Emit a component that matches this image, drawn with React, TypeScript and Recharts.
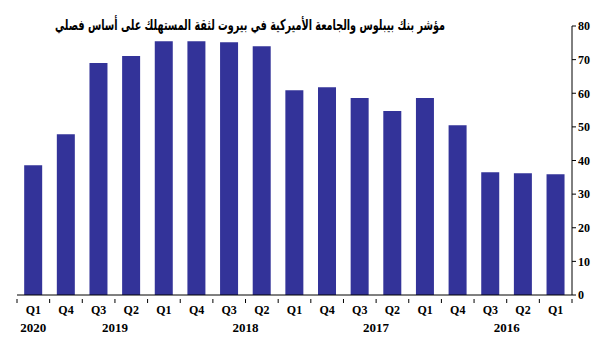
import { BarChart, Bar, XAxis, YAxis } from 'recharts'

// chronological order, the axis is drawn right-to-left
const quarters = ['Q1', 'Q2', 'Q3', 'Q4', 'Q1', 'Q2', 'Q3', 'Q4', 'Q1', 'Q2', 'Q3', 'Q4', 'Q1', 'Q2', 'Q3', 'Q4', 'Q1']
const years = ['2016', '2016', '2016', '2016', '2017', '2017', '2017', '2017', '2018', '2018', '2018', '2018', '2019', '2019', '2019', '2019', '2020']
const indexValues = [35.9, 36.2, 36.5, 50.5, 58.6, 54.7, 58.6, 61.8, 60.9, 74.0, 75.2, 75.5, 75.5, 71.1, 69.0, 47.8, 38.6]
const yTicks = [0, 10, 20, 30, 40, 50, 60, 70, 80]

const title = 'مؤشر بنك بيبلوس والجامعة الأميركية في بيروت لثقة المستهلك على أساس فصلي'

const data = quarters.map((q, i) => ({ label: q, year: years[i], value: indexValues[i] }))

const BAND = 555 / 17
const FONT = '"Liberation Serif", "Times New Roman", serif'

const QuarterTick = (props: any) => {
  const { x, y, payload } = props
  const i = payload.index
  const d = data[i]
  const yearCount = years.filter((yr) => yr === d.year).length
  let yearX: number | null = null
  if (yearCount === 1) yearX = x
  else if (d.label === 'Q3') yearX = x + BAND / 2
  return (
    <g>
      <line x1={x + BAND / 2} x2={x + BAND / 2} y1={y - 4} y2={y} stroke="#000" />
      {i === data.length - 1 && <line x1={x - BAND / 2} x2={x - BAND / 2} y1={y - 4} y2={y} stroke="#000" />}
      <text x={x} y={y + 11} textAnchor="middle" fontFamily={FONT} fontWeight="bold" fontSize={12} fill="#000">
        {d.label}
      </text>
      {yearX !== null && (
        <text x={yearX} y={y + 29} textAnchor="middle" fontFamily={FONT} fontWeight="bold" fontSize={13} fill="#000">
          {d.year}
        </text>
      )}
    </g>
  )
}

export default function App() {
  return (
    <div style={{ position: 'absolute', left: 0, top: 0, width: 609, height: 351, background: '#fff' }}>
      <BarChart
        width={609}
        height={351}
        data={data}
        margin={{ top: 26, right: 7, left: 17, bottom: 21 }}
        barCategoryGap="22%"
      >
        <text
          x={250}
          y={30}
          textAnchor="middle"
          fontFamily='"DejaVu Sans Condensed", "DejaVu Sans", sans-serif'
          fontWeight="bold"
          fontSize={15}
          fill="#000"
          textLength={390}
          lengthAdjust="spacingAndGlyphs"
        >
          {title}
        </text>
        <XAxis
          dataKey="label"
          reversed
          interval={0}
          height={35}
          axisLine={{ stroke: '#000' }}
          tickLine={false}
          tick={<QuarterTick />}
        />
        <YAxis
          orientation="right"
          domain={[0, 80]}
          ticks={yTicks}
          interval={0}
          width={30}
          axisLine={{ stroke: '#000' }}
          tickLine={{ stroke: '#000' }}
          tickSize={4}
          tick={{ fontFamily: FONT, fontWeight: 'bold', fontSize: 12, fill: '#000' }}
        />
        <Bar dataKey="value" fill="#333399" isAnimationActive={false} />
      </BarChart>
    </div>
  )
}
